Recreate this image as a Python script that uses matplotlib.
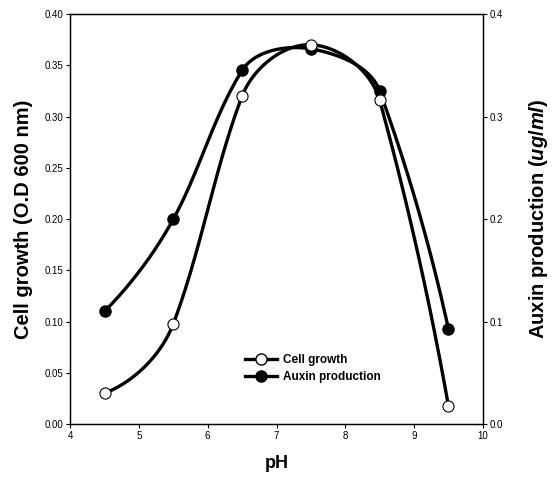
import numpy as np
import matplotlib
matplotlib.use('Agg')
import matplotlib.pyplot as plt
from matplotlib.lines import Line2D

plt.rcParams['font.family'] = ['Liberation Sans', 'DejaVu Sans']
plt.rcParams['mathtext.fontset'] = 'custom'
plt.rcParams['mathtext.it'] = 'Liberation Sans:italic:bold'
plt.rcParams['mathtext.rm'] = 'Liberation Sans:bold'

# data
ph = [4.5, 5.5, 6.5, 7.5, 8.5, 9.5]
cell_growth = [0.030, 0.098, 0.320, 0.370, 0.316, 0.018]
auxin = [0.110, 0.200, 0.345, 0.366, 0.325, 0.093]

XLIM = (4, 10)
YLIM = (0, 0.4)


def smooth(x, y, n=60):
    # parametric Hermite curve through the points (axes-fraction units);
    # tangent leans toward the longer neighbouring chord, like the original plot
    sx = (np.asarray(x, float) - XLIM[0]) / (XLIM[1] - XLIM[0])
    sy = (np.asarray(y, float) - YLIM[0]) / (YLIM[1] - YLIM[0])
    P = np.column_stack([sx, sy])
    d = np.diff(P, axis=0)
    L = np.linalg.norm(d, axis=1)
    u = d / L[:, None]
    k = len(P)
    T = np.zeros_like(P)
    for i in range(1, k - 1):
        v = u[i - 1] * L[i - 1] ** 2 + u[i] * L[i] ** 2
        T[i] = v / np.linalg.norm(v)
    # end tangents: mirror the neighbouring tangent about the end chord
    T[0] = 2 * np.dot(T[1], u[0]) * u[0] - T[1]
    T[-1] = 2 * np.dot(T[-2], u[-1]) * u[-1] - T[-2]
    s = np.linspace(0, 1, n)[:, None]
    h00 = 2 * s**3 - 3 * s**2 + 1
    h10 = s**3 - 2 * s**2 + s
    h01 = -2 * s**3 + 3 * s**2
    h11 = s**3 - s**2
    out = []
    for i in range(k - 1):
        c = h00 * P[i] + h10 * L[i] * T[i] + h01 * P[i + 1] + h11 * L[i] * T[i + 1]
        out.append(c)
    c = np.vstack(out)
    xs = XLIM[0] + c[:, 0] * (XLIM[1] - XLIM[0])
    ys = YLIM[0] + c[:, 1] * (YLIM[1] - YLIM[0])
    return xs, ys


fig = plt.figure(figsize=(5.53, 4.83), dpi=100)
ax = fig.add_axes([0.127, 0.122, 0.746, 0.849])
ax2 = ax.twinx()

lw = 2.4
ms = 8

xs, ys = smooth(ph, auxin)
ax2.plot(xs, ys, color='black', lw=lw, zorder=2)
ax2.plot(ph, auxin, 'o', color='black', ms=ms, zorder=3)

xs, ys = smooth(ph, cell_growth)
ax.plot(xs, ys, color='black', lw=lw, zorder=2)
ax.plot(ph, cell_growth, 'o', mfc='white', mec='black', mew=0.8, ms=ms, zorder=3)
ax.set_zorder(ax2.get_zorder() + 1)
ax.patch.set_visible(False)

ax.set_xlim(*XLIM)
ax.set_ylim(0, 0.40)
ax2.set_ylim(*YLIM)
ax.set_xticks(range(4, 11))
ax.set_yticks(np.arange(0, 0.401, 0.05))
ax.set_yticklabels([f'{v:.2f}' for v in np.arange(0, 0.401, 0.05)])
ax2.set_yticks([0, 0.1, 0.2, 0.3, 0.4])
ax2.set_yticklabels(['0.0', '0.1', '0.2', '0.3', '0.4'])

for a in (ax, ax2):
    a.tick_params(labelsize=7, length=3, width=0.8, direction='out', pad=2)
    for s in a.spines.values():
        s.set_linewidth(0.9)

ax.set_xlabel('pH', fontsize=13, fontweight='bold', labelpad=10)
ax.set_ylabel('Cell growth (O.D 600 nm)', fontsize=14.5, fontweight='bold', labelpad=8)
ax2.set_ylabel(r'Auxin production ($\it{ug/ml}$)', fontsize=14.5, fontweight='bold', labelpad=17)

handles = [
    Line2D([], [], color='black', lw=lw, marker='o', mfc='white', mec='black', ms=ms),
    Line2D([], [], color='black', lw=lw, marker='o', mfc='black', ms=ms),
]
leg = ax.legend(handles, ['Cell growth', 'Auxin production'], loc='center left',
                bbox_to_anchor=(0.398, 0.136), frameon=False, handlelength=2.7,
                handletextpad=0.5, labelspacing=0.44,
                prop={'size': 8.5, 'weight': 'bold'})

fig.savefig('out.png', dpi=100)
